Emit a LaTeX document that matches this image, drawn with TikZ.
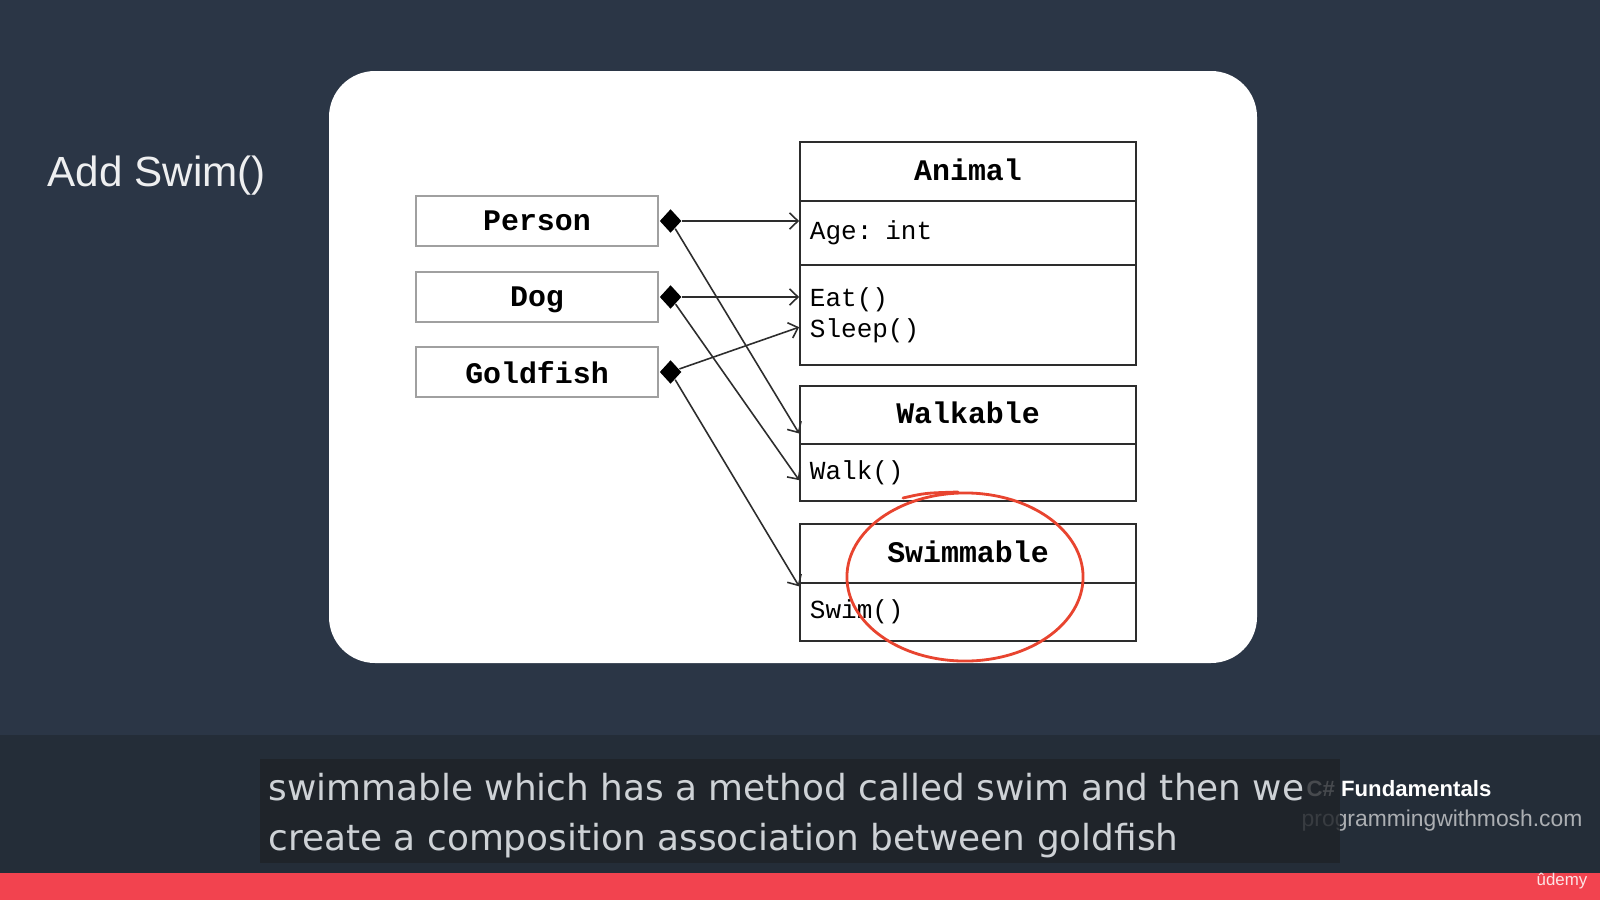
\documentclass[tikz,border=0pt]{standalone}
\usepackage{fontspec}
\setmainfont{Liberation Sans}
\newfontfamily\codefont{Liberation Mono}
\newfontfamily\captionfont{DejaVu Sans}
\usetikzlibrary{
  arrows.meta,
  calc,
  positioning,
  shapes.geometric
}
\definecolor{slatebg}{RGB}{43,54,70}
\definecolor{slatelow}{RGB}{36,45,56}
\definecolor{captionbg}{RGB}{31,35,40}
\definecolor{captiontext}{RGB}{206,210,214}
\definecolor{udemyred}{RGB}{242,67,79}
\definecolor{penred}{RGB}{232,68,47}
\definecolor{umlline}{RGB}{45,45,45}
\definecolor{boxgray}{RGB}{160,160,160}

\begin{document}
\begin{tikzpicture}[x=0.01cm, y=-0.01cm,
  classhead/.style={draw=umlline, line width=0.45pt, fill=white, inner sep=0pt,
    minimum width=3.36cm, text depth=1.2pt,
    font=\codefont\fontsize{8.5}{10}\selectfont\bfseries},
  classbody/.style={draw=umlline, line width=0.45pt, fill=white, inner xsep=0.1cm,
    inner ysep=0pt, minimum width=3.36cm, text width=3.16cm, align=left,
    font=\codefont\fontsize{7.4}{8.8}\selectfont},
  ownerbox/.style={draw=boxgray, line width=0.45pt, minimum width=2.42cm,
    minimum height=0.5cm, text depth=0pt,
    font=\codefont\fontsize{8.5}{10}\selectfont\bfseries},
  owns/.style={diamond, fill=black, inner sep=0pt, minimum width=0.22cm,
    minimum height=0.24cm},
  assoc/.style={draw=umlline, line width=0.45pt,
    -{Straight Barb[length=2.4pt, width=4.6pt]}}]
  \useasboundingbox (0,0) rectangle (1600,900);

  % Slide background
  \fill[slatebg] (0,0) rectangle (1600,900);
  \fill[slatelow] (0,735) rectangle (1600,873);
  \fill[udemyred] (0,873) rectangle (1600,900);
  \fill[white, rounded corners=0.46cm] (329,71) rectangle (1257,663);

  \node[font=\fontsize{12}{14}\selectfont, text=white!92!slatebg, anchor=west, inner sep=0pt] (title) at (47,176) {Add Swim()};

  % Owners
  \node[ownerbox] (person) at (537,221) {Person};
  \node[ownerbox] (dog) at (537,297) {Dog};
  \node[ownerbox] (goldfish) at (537,372) {Goldfish};
  \node[owns, right=0pt of person] (pown) {};
  \node[owns, right=0pt of dog] (down) {};
  \node[owns, right=0pt of goldfish] (gown) {};

  % Animal
  \node[classhead, minimum height=0.59cm] (animal) at (968,171.5) {Animal};
  \node[classbody, minimum height=0.64cm] (animalattr) at (968,233) {Age: int};
  \node[classbody, minimum height=1.00cm] (animalops) at (968,315) {Eat()\\Sleep()};

  % Walkable
  \node[classhead, minimum height=0.58cm] (walkable) at (968,415) {Walkable};
  \node[classbody, minimum height=0.57cm] (walkops) at (968,472.5) {Walk()};

  % Swimmable
  \node[classhead, minimum height=0.59cm] (swimmable) at (968,553.5) {Swimmable};
  \node[classbody, minimum height=0.58cm] (swimops) at (968,612) {Swim()};

  % Compositions
  \draw[assoc] (pown) -- (pown -| animalattr.west);
  \draw[assoc] (pown) -- ($(walkable.west)!0.62!(walkable.south west)$);
  \draw[assoc] (down) -- (down -| animalops.west);
  \draw[assoc] (down) -- ($(walkops.west)!0.26!(walkops.south west)$);
  \draw[assoc] (gown) -- ($(animalops.west)!0.24!(animalops.south west)$);
  \draw[assoc] (gown) -- ($(swimops.north west)!0.14!(swimops.west)$);

  % Pen mark
  \draw[penred, line width=0.8pt] (965,577) ellipse [x radius=1.18cm, y radius=0.84cm];
  \draw[penred, line width=0.8pt, line cap=round] (903,498) .. controls (925,493) .. (958,492);

  % Course label
  \node[font=\fontsize{6.3}{7.5}\selectfont\bfseries, text=white, anchor=west, inner sep=0pt] (course) at (1306,789) {C\# Fundamentals};
  \node[font=\fontsize{6.5}{7.5}\selectfont, text=white!62!slatelow, anchor=west, inner sep=0pt] (site) at (1301,821) {programmingwithmosh.com};

  % Caption
  \fill[captionbg, opacity=0.82] (260,759) rectangle (1340,863);
  \node[font=\captionfont\fontsize{10.2}{12}\selectfont, text=captiontext, anchor=west, inner sep=0pt] (line1) at (268,787) {swimmable which has a method called swim and then we};
  \node[font=\captionfont\fontsize{10.2}{12}\selectfont, text=captiontext, anchor=west, inner sep=0pt] (line2) at (268,841) {create a composition association between goldfish};

  \node[font=\fontsize{4.8}{6}\selectfont, text=white!85!udemyred] (udemy) at (1562,881) {ûdemy};
\end{tikzpicture}
\end{document}
